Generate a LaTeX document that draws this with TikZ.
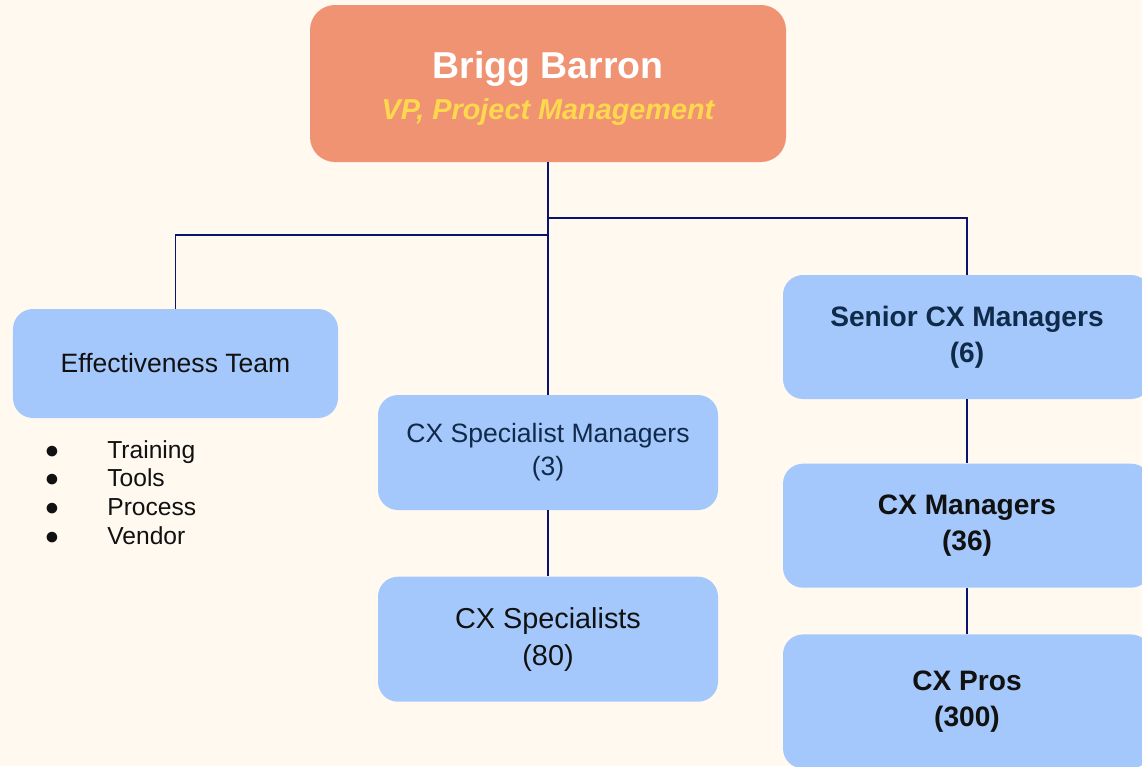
\documentclass[tikz,border=0pt]{standalone}
\usepackage{fontspec}
\setmainfont{Liberation Sans}
\usepackage{xcolor}
\usetikzlibrary{positioning}
\definecolor{bgcream}{HTML}{FFF9EF}
\definecolor{vpsalmon}{HTML}{EF9373}
\definecolor{vpyellow}{HTML}{FFD84D}
\definecolor{teamblue}{HTML}{A4C8FB}
\definecolor{linknavy}{HTML}{0A1370}
\definecolor{textnavy}{HTML}{102A4A}
\definecolor{textblack}{HTML}{111111}
\tikzset{
    unitbox/.style={rounded corners=0.4cm, fill=teamblue, align=center, inner sep=0pt, minimum width=6.8cm},
    plainunit/.style={unitbox, text=textblack, font=\fontsize{15.1}{18.7}\selectfont},
    leadunit/.style={unitbox, minimum width=7.36cm, minimum height=2.48cm, text=textblack, font=\bfseries\fontsize{16}{20.4}\selectfont},
    headbox/.style={rounded corners=0.5cm, fill=vpsalmon, align=center, inner sep=0pt, minimum width=9.52cm, minimum height=3.14cm, text=white},
    orgline/.style={draw=linknavy, line width=1.1pt},
    tasktext/.style={inner sep=0pt, text=textblack, font=\fontsize{14}{16.3}\selectfont}
}

\begin{document}
\begin{tikzpicture}
    \useasboundingbox (0,0) rectangle (22.84,-15.32);
    \fill[bgcream] (0,0) rectangle (22.84,-15.32);
    \clip (0,0) rectangle (22.84,-15.32);

    % The VP on top
    \node[headbox] (vp) at (10.96,-1.67)
        {{\bfseries\fontsize{21.3}{22.1}\selectfont\rule{0pt}{21pt}Brigg Barron}\\[0.2cm]
         {\color{vpyellow}\bfseries\itshape\fontsize{16.4}{22.1}\selectfont VP, Project Management}};

    % Three branches below
    \node[plainunit, minimum width=6.5cm, minimum height=2.18cm] (effect) at (3.51,-7.27) {Effectiveness Team};
    \node[plainunit, minimum height=2.3cm, text=textnavy] (specmgr) at (10.96,-9.05) {CX Specialist Managers\\(3)};
    \node[plainunit, minimum height=2.5cm, font=\fontsize{16.4}{21}\selectfont, below=1.32cm of specmgr] (specs) {CX Specialists\\(80)};
    \node[leadunit, text=textnavy] (senior) at (19.34,-6.74) {Senior CX Managers\\(6)};
    \node[leadunit, below=1.28cm of senior] (cxmgr) {CX Managers\\(36)};
    \node[leadunit, minimum height=2.68cm, below=0.92cm of cxmgr] (pros) {CX Pros\\(300)};

    % What the effectiveness team covers
    \foreach \task [count=\i] in {Training, Tools, Process, Vendor} {
        \node[tasktext, anchor=base] (dot\i) at (1.04,-9.16-0.574*\i+0.574) {●};
        \node[tasktext, anchor=base west] (task\i) at (2.14,-9.16-0.574*\i+0.574) {\task};
    }

    % Reporting lines
    \coordinate (busleft) at (10.96,-4.70);
    \coordinate (busright) at (10.96,-4.36);
    \draw[orgline] (vp.south) -- (specmgr.north);
    \draw[orgline] (busleft) -| (effect.north);
    \draw[orgline] (busright) -| (senior.north);
    \draw[orgline] (specmgr) -- (specs);
    \draw[orgline] (senior) -- (cxmgr);
    \draw[orgline] (cxmgr) -- (pros);
\end{tikzpicture}
\end{document}
